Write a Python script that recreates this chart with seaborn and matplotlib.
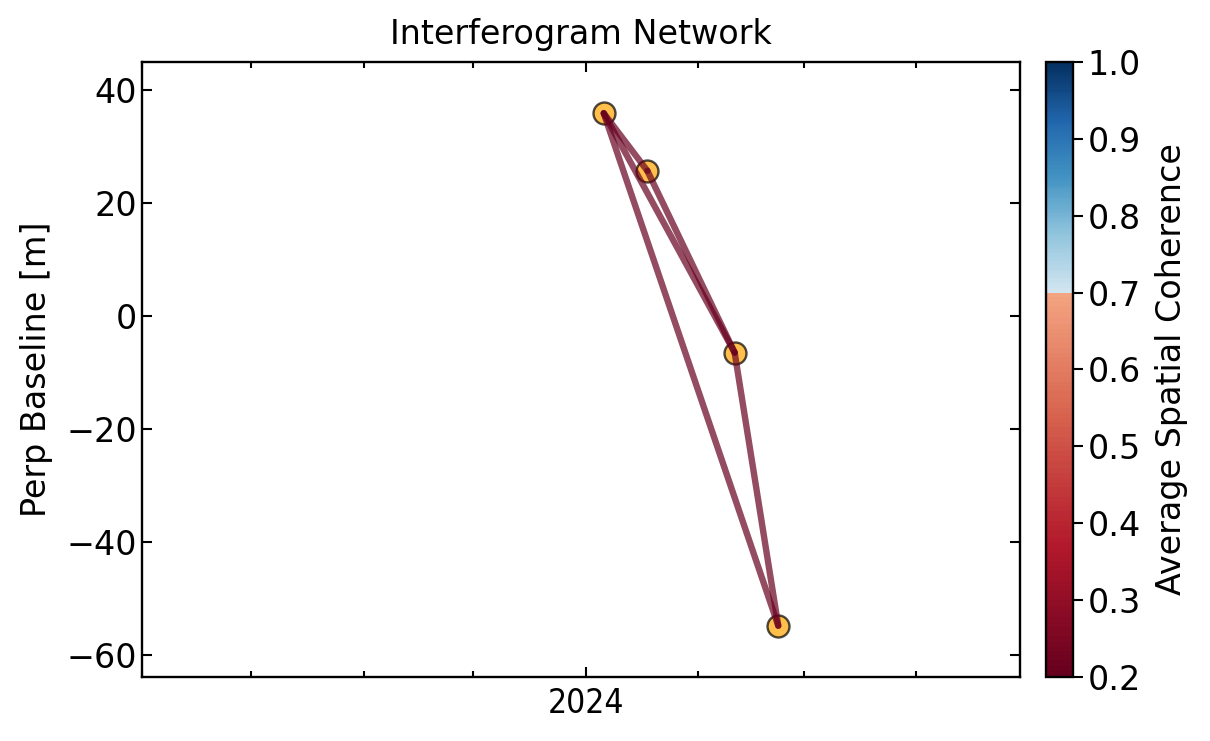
import numpy as np
import pandas as pd
import matplotlib
matplotlib.use("Agg")
import matplotlib.pyplot as plt
import matplotlib.dates as mdates
from matplotlib.colors import ListedColormap, Normalize
import seaborn as sns

# ---- data ----
acq_dates = ["2024-01-06", "2024-01-18", "2024-02-11", "2024-02-23"]
perp_baseline = [35.9, 25.7, -6.5, -54.9]
pair_ref = [0, 0, 1, 0, 2]
pair_sec = [1, 2, 2, 3, 3]
pair_coherence = [0.2, 0.2, 0.2, 0.2, 0.2]
cbar_ticks = [0.2, 0.3, 0.4, 0.5, 0.6, 0.7, 0.8, 0.9, 1.0]

sns.set_style("white")
plt.rcParams['font.family'] = ['DejaVu Sans']
for k in ["text.color", "axes.labelcolor", "xtick.color", "ytick.color", "axes.edgecolor"]:
    plt.rcParams[k] = "black"

FS = 24

dates = pd.to_datetime(acq_dates)
df = pd.DataFrame({"date": dates, "bperp": perp_baseline})

# truncated RdBu colormap
vmin, vmax, vbreak = 0.2, 1.0, 0.7
base = plt.get_cmap("RdBu")
n1 = int(round((vbreak - vmin) / (vmax - vmin) * 256))
n2 = 256 - n1
colors = np.vstack([base(np.linspace(0.0, 0.3, n1)), base(np.linspace(0.6, 1.0, n2))])
cmap = ListedColormap(colors)
norm = Normalize(vmin=vmin, vmax=vmax)

fig = plt.figure(figsize=(12.1, 7.41), dpi=100)
ax = fig.add_axes([0.1174, 0.0864, 0.7256, 0.8299])
cax = fig.add_axes([0.8645, 0.0864, 0.0223, 0.8299])

for r, s, c in zip(pair_ref, pair_sec, pair_coherence):
    ax.plot([dates[r], dates[s]], [perp_baseline[r], perp_baseline[s]],
            color=cmap(norm(c)), alpha=0.7, lw=4.6, zorder=3)

sns.scatterplot(data=df, x="date", y="bperp", ax=ax, s=250, color="orange",
                edgecolor="k", linewidth=1.7, alpha=0.7, zorder=2, legend=False)

ax.set_xlim(pd.Timestamp("2023-09-01"), pd.Timestamp("2024-04-29 12:00"))
span = max(perp_baseline) - min(perp_baseline)
ax.set_ylim(min(perp_baseline) - 0.1 * span, max(perp_baseline) + 0.1 * span)

ax.xaxis.set_major_locator(mdates.YearLocator())
ax.xaxis.set_major_formatter(mdates.DateFormatter("%Y"))
ax.xaxis.set_minor_locator(mdates.MonthLocator())
ax.set_yticks([40, 20, 0, -20, -40, -60])
ax.tick_params(which="both", direction="in", top=True, right=True, bottom=True, left=True,
               labelsize=FS, colors="black")
ax.tick_params(which="major", length=7.5, width=1.5)
ax.tick_params(which="minor", length=4.5, width=1.5)
ax.tick_params(axis="x", which="major", pad=7)
for lab in ax.get_xticklabels():
    lab.set_fontstretch("condensed")
for sp in ax.spines.values():
    sp.set_linewidth(1.7)
    sp.set_color("black")

ax.set_xlabel("")
ax.set_ylabel("Perp Baseline [m]", fontsize=FS, labelpad=10)
ax.set_title("Interferogram Network", fontsize=FS, pad=13)

sm = matplotlib.cm.ScalarMappable(norm=norm, cmap=cmap)
cb = fig.colorbar(sm, cax=cax, ticks=cbar_ticks)
cb.ax.tick_params(labelsize=FS, length=7, width=1.5, direction="out", colors="black")
cb.outline.set_linewidth(1.7)
cb.outline.set_edgecolor("black")
cb.set_label("Average Spatial Coherence", fontsize=FS, labelpad=10)
cb.ax.yaxis.set_major_formatter(matplotlib.ticker.FormatStrFormatter("%.1f"))

fig.savefig("out.png", dpi=100)
